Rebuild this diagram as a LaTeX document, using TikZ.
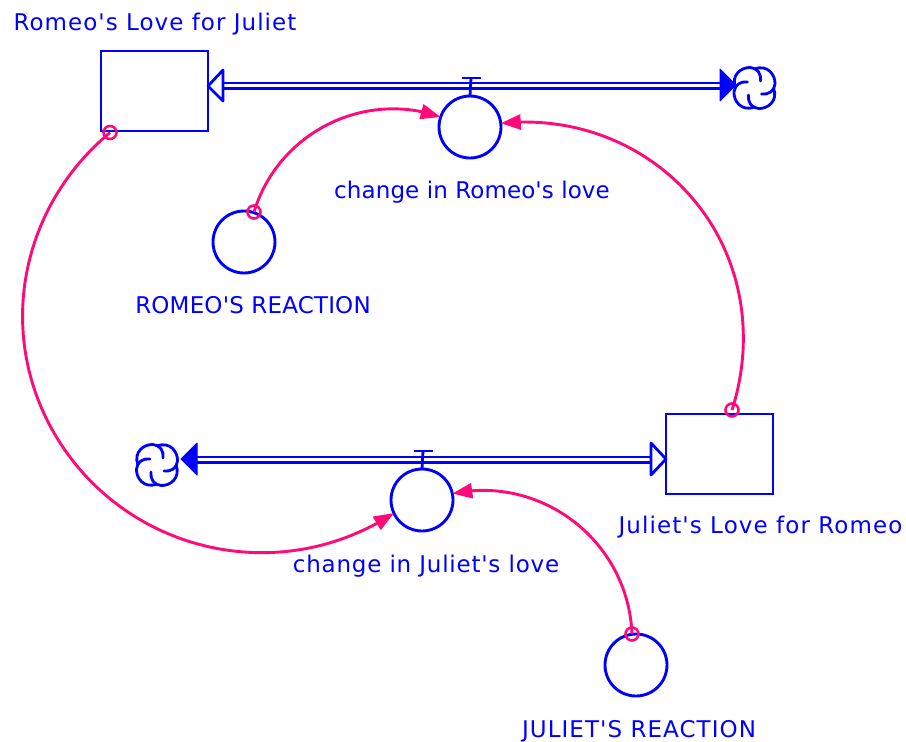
\documentclass[tikz,border=0pt]{standalone}
\usepackage{fontspec}
\setmainfont{DejaVu Sans}[Ligatures=TeXOff,LetterSpace=3.8]
\usetikzlibrary{arrows.meta,bending}
\definecolor{sdblue}{RGB}{0,0,255}
\definecolor{sdpink}{RGB}{255,10,120}
\newcommand{\lsp}[2]{\addfontfeature{LetterSpace=#1}#2}
\tikzset{
  stock/.style={draw=sdblue,line width=2.9pt,minimum width=107pt,minimum height=80pt,inner sep=0pt,outer sep=0pt},
  ball/.style={circle,draw=sdblue,line width=2.9pt,minimum size=62pt,inner sep=0pt,outer sep=0pt},
  pin/.style={circle,draw=sdpink,line width=2.6pt,minimum size=13pt,inner sep=0pt,outer sep=0pt},
  label/.style={text=sdblue,font=\fontsize{23pt}{27pt}\selectfont,inner sep=0pt,outer sep=0pt,anchor=base},
  pipe/.style={draw=sdblue,line width=2.8pt,double=white,double distance=2.4pt},
  bluel/.style={draw=sdblue,line width=2.8pt},
  openhead/.style={draw=sdblue,fill=white,line width=2.8pt,line join=round},
  influence/.style={draw=sdpink,line width=2.9pt,-{Triangle[length=20pt,width=15pt,flex]}},
  puff/.style={draw=sdblue,line width=2.8pt,line cap=round}
}
\begin{document}
\begin{tikzpicture}[x=1pt,y=-1pt]
\useasboundingbox (0,0) rectangle (906,742);
% stocks
\node[stock] (romeo) at (154.5,91) {};
\node[stock] (juliet) at (719.5,454) {};
% valves and constants
\node[ball] (v1) at (470,127) {};
\node[ball] (v2) at (422,500) {};
\node[ball] (rr) at (244,242) {};
\node[ball] (jr) at (636,665) {};
% clouds
\coordinate (cloudA) at (754.5,88);
\coordinate (cloudB) at (157,465);
\foreach \c in {cloudA,cloudB}{
  \foreach \a in {0,90,180,270}{
    \begin{scope}[shift={(\c)},rotate=\a]
      \draw[puff] (-19,0) .. controls (-24,-13) and (-13,-21) .. (-4,-20.5) .. controls (3,-20) and (7,-14) .. (6,-7);
    \end{scope}
  }
}
% pipes
\coordinate (p1w) at (222,85.5);
\coordinate (p1e) at (721,85.5);
\coordinate (p1tip) at (208,86);
\coordinate (p1a) at (223,70);
\coordinate (p1b) at (223,101);
\coordinate (p1s) at (720,69);
\coordinate (p1t) at (720,101);
\coordinate (p1head) at (736,85);
\draw[pipe] (p1w) -- (p1e);
\draw[openhead] (p1tip) -- (p1a) -- ([yshift=4pt]p1a |- p1w) -- ([yshift=-4pt]p1b |- p1w) -- (p1b) -- cycle;
\fill[draw=sdblue,fill=sdblue,line width=1pt,line join=round] (p1s) -- (p1head) -- (p1t) -- cycle;
\coordinate (p2w) at (196,459.5);
\coordinate (p2e) at (652,459.5);
\coordinate (p2tip) at (666,459);
\coordinate (p2a) at (651,443);
\coordinate (p2b) at (651,475);
\coordinate (p2s) at (197,443);
\coordinate (p2t) at (197,475);
\coordinate (p2head) at (181,459);
\draw[pipe] (p2w) -- (p2e);
\draw[openhead] (p2tip) -- (p2a) -- ([yshift=4pt]p2a |- p2e) -- ([yshift=-4pt]p2b |- p2e) -- (p2b) -- cycle;
\fill[draw=sdblue,fill=sdblue,line width=1pt,line join=round] (p2s) -- (p2head) -- (p2t) -- cycle;
% valve stems
\coordinate (t1) at (471,78);
\coordinate (t1a) at (462,78);
\coordinate (t1b) at (481,78);
\coordinate (t2) at (423,451);
\coordinate (t2a) at (414,451);
\coordinate (t2b) at (433,451);
\draw[bluel] (v1.north) -- (t1);
\draw[bluel] (t1a) -- (t1b);
\draw[bluel] (v2.north) -- (t2);
\draw[bluel] (t2a) -- (t2b);
% influences
\node[pin] (s1) at (110,132.5) {};
\node[pin] (s2) at (254,212) {};
\node[pin] (s3) at (732,410) {};
\node[pin] (s4) at (632,634) {};
\coordinate (m1) at (67.8,454.1);
\coordinate (m3) at (696.8,203.6);
\draw[influence] (s1.center) .. controls (13,213.4) and (-6.6,351.7) .. (m1) .. controls (142.2,556.5) and (285.4,584.2) .. (v2.205.8);
\draw[influence] (s2.center) .. controls (278,133.5) and (362.5,89.8) .. (v1.161.6);
\draw[influence] (s3.center) .. controls (754.7,339.2) and (743.5,261.9) .. (m3) .. controls (650.1,145.3) and (577.3,115.5) .. (v1.7);
\draw[influence] (s4.center) .. controls (628.3,542.3) and (543,474.6) .. (v2.12.7);
% labels
\node[label] (l1) at (155,30.7) {\lsp{4.5}{Romeo's Love for Juliet}};
\node[label] (l2) at (472,198.7) {\lsp{0.45}{change in Romeo's love}};
\node[label] (l3) at (253,313.7) {\lsp{0.8}{ROMEO'S REACTION}};
\node[label] (l4) at (760.5,533.7) {\lsp{4.75}{Juliet's Love for Romeo}};
\node[label] (l5) at (426,572.7) {\lsp{3.4}{change in Juliet's love}};
\node[label] (l6) at (639,737.7) {\lsp{4.6}{JULIET'S REACTION}};
\end{tikzpicture}
\end{document}
